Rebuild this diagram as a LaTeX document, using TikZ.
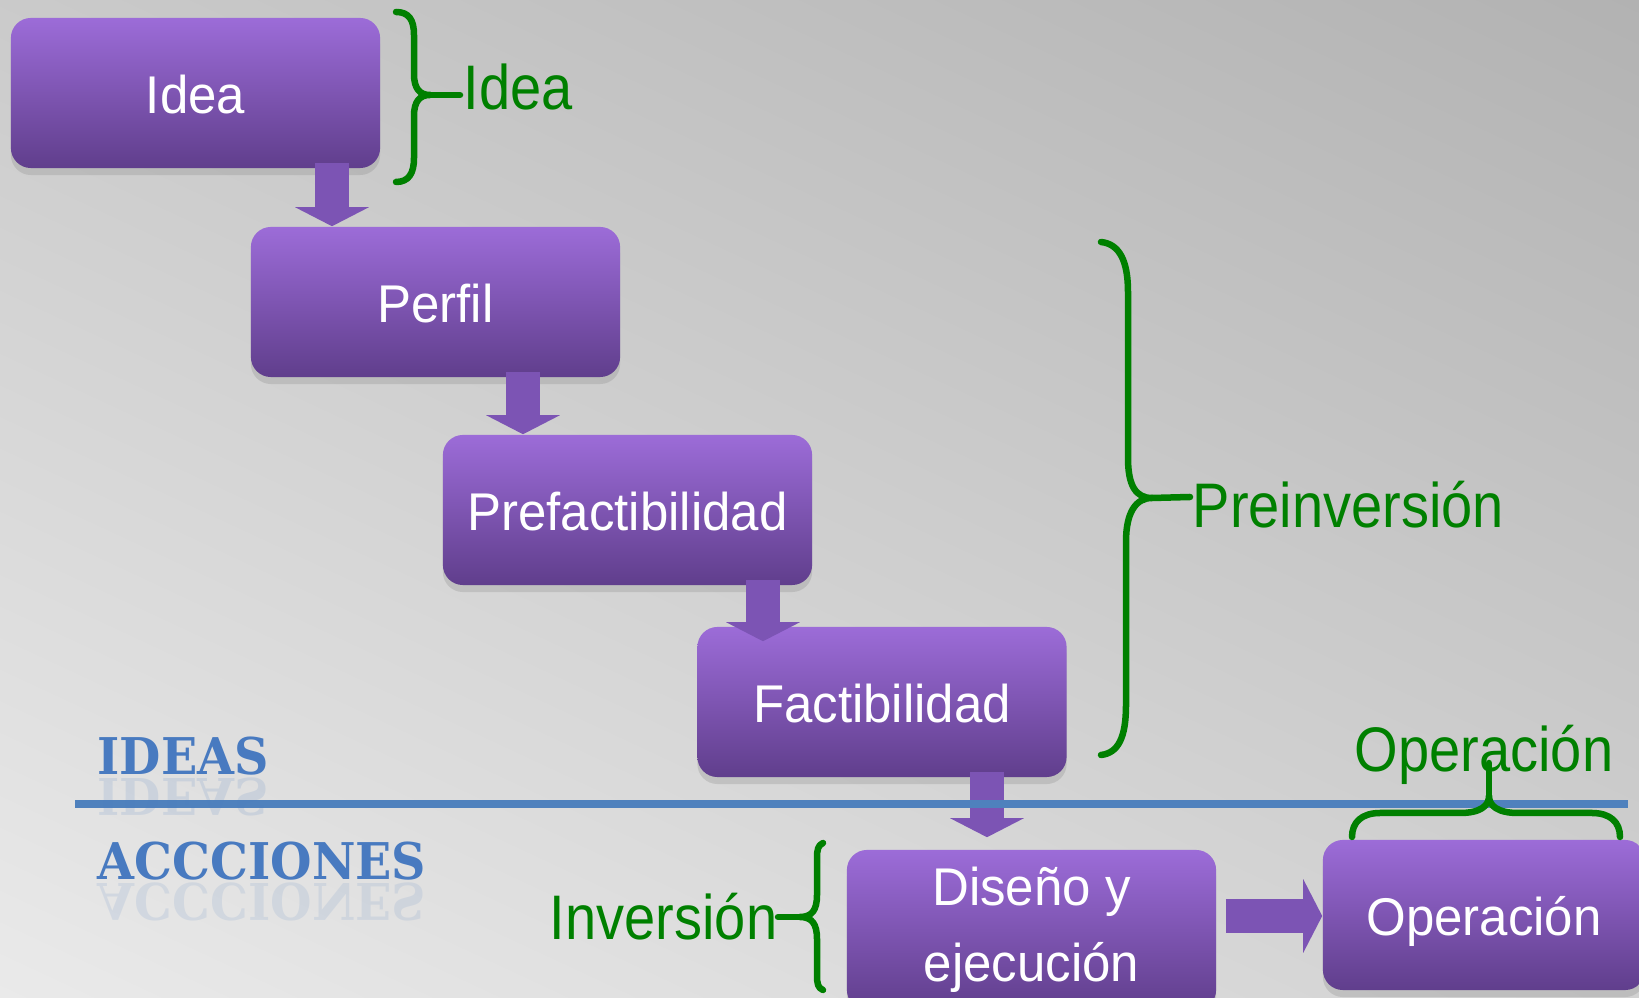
\documentclass[tikz,border=0pt]{standalone}
\usepackage{fontspec}
\setmainfont{Liberation Sans}
\newfontfamily\boxfont[FakeStretch=0.96]{Liberation Sans}
\newfontfamily\tagfont[FakeStretch=0.89]{Liberation Sans}
\newfontfamily\bannerfont[FakeStretch=0.94]{DejaVu Serif}
\usetikzlibrary{arrows.meta,positioning,calc,shadows}
\definecolor{bgTop}{RGB}{178,178,178}
\definecolor{bgBot}{RGB}{234,234,234}
\definecolor{boxTop}{RGB}{156,108,216}
\definecolor{boxBot}{RGB}{96,62,140}
\definecolor{flowcolor}{RGB}{124,84,180}
\definecolor{tagcolor}{RGB}{0,128,0}
\definecolor{rulecolor}{RGB}{79,129,189}
\definecolor{bannercolor}{RGB}{72,122,192}
\newcommand{\stepdown}[4]{%
  \draw[flow, shorten <=-0.06cm, shorten >=#4] (#2.south -| #1,0) -- (#3.north -| #1,0);
}

\begin{document}
\begin{tikzpicture}[x=0.01cm, y=-0.01cm,
    stage/.style={rounded corners=0.2cm, top color=boxTop, bottom color=boxBot,
      minimum width=3.69cm, minimum height=1.5cm, text=white, align=center,
      font=\boxfont\fontsize{15.1}{21.6}\selectfont,
      drop shadow={opacity=0.25, shadow xshift=0cm, shadow yshift=-0.07cm}},
    oneline/.style={text height=0.4cm, text depth=0cm},
    flow/.style={draw=flowcolor, line width=0.34cm, -{Triangle[width=0.73cm, length=0.19cm]}},
    tag/.style={text=tagcolor, font=\tagfont\fontsize{17.9}{21}\selectfont, inner sep=0pt},
    gbrace/.style={draw=tagcolor, line width=0.065cm, line cap=round, line join=round},
    banner/.style={text=bannercolor, font=\bannerfont\bfseries\fontsize{14.4}{16}\selectfont,
      inner sep=0pt, anchor=base west}]
  \useasboundingbox (0,0) rectangle (1639,998);
  \clip (0,0) rectangle (1639,998);
  \shade[top color=bgTop, bottom color=bgBot, shading angle=-25] (-200,-200) rectangle (1839,1198);

  % stages
  \node[stage, oneline] (idea) at (195.5,93) {Idea};
  \node[stage, oneline] (perfil) at (435.5,302) {Perfil};
  \node[stage, oneline] (prefact) at (627.5,510) {Prefactibilidad};
  \node[stage, oneline] (fact) at (882,702) {Factibilidad};
  \node[stage, minimum height=1.6cm] (diseno) at (1031.5,930) {Diseño y\\ejecución};
  \node[stage, oneline, minimum width=3.22cm] (operacion) at (1484,915) {Operación};

  % flow arrows
  \stepdown{332}{idea}{perfil}{0cm}
  \stepdown{523}{perfil}{prefact}{0cm}
  \stepdown{763}{prefact}{fact}{-0.15cm}
  \stepdown{987}{fact}{diseno}{0.12cm}
  \draw[flow, shorten <=0.09cm] (diseno.east |- 0,916) -- (operacion.west |- 0,916);

  % divider
  \coordinate (ruleL) at (75,804);
  \coordinate (ruleR) at (1628,804);
  \draw[rulecolor, line width=0.08cm] (ruleL) -- (ruleR);

  % braces
  \draw[gbrace] (396,12) .. controls (409,12) and (414,20) .. (414,35) -- (414,74)
    .. controls (414,89) and (420,95) .. (430,95)
    .. controls (420,95) and (414,101) .. (414,116) -- (414,158)
    .. controls (414,173) and (409,182) .. (396,182);
  \coordinate (ideatip) at (460,95);
  \draw[gbrace] (430,95) -- (ideatip);
  \draw[gbrace] (1101,242) .. controls (1120,244) and (1128,262) .. (1128,292) -- (1128,458)
    .. controls (1128,486) and (1136,498) .. (1152,498)
    .. controls (1136,498) and (1126,512) .. (1126,542) -- (1126,705)
    .. controls (1126,738) and (1118,753) .. (1101,755);
  \coordinate (pretip) at (1190,497);
  \draw[gbrace] (1152,498) -- (pretip);
  \draw[gbrace] (823,843) .. controls (818,845) and (817,850) .. (817,858) -- (817,895)
    .. controls (817,910) and (812,917) .. (800,917)
    .. controls (812,917) and (817,924) .. (817,939) -- (817,975)
    .. controls (817,984) and (818,988) .. (823,990);
  \coordinate (invtip) at (778,917);
  \draw[gbrace] (800,917) -- (invtip);
  \draw[gbrace] (1352,837) .. controls (1352,822) and (1362,813) .. (1380,813) -- (1460,813)
    .. controls (1480,813) and (1489,806) .. (1489,796)
    .. controls (1489,806) and (1498,813) .. (1518,813) -- (1592,813)
    .. controls (1610,813) and (1620,822) .. (1620,837);
  \coordinate (optip) at (1489,763);
  \draw[gbrace] (1489,796) -- (optip);

  % labels
  \node[tag, anchor=base west] (lblidea) at (463,110) {Idea};
  \node[tag, anchor=base west] (lblpre) at (1192,528) {Preinversión};
  \node[tag, anchor=base east] (lblinv) at (778,940) {Inversión};
  \node[tag, anchor=base west] (lblop) at (1354,772) {Operación};

  % banners
  \node[banner] (ideas) at (97,775) {IDEAS};
  \node[banner, opacity=0.14, transform shape, yscale=-1] at (97,779) {IDEAS};
  \node[banner] (acciones) at (97,880) {ACCCIONES};
  \node[banner, opacity=0.12, transform shape, yscale=-1] at (97,884) {ACCCIONES};
\end{tikzpicture}
\end{document}
